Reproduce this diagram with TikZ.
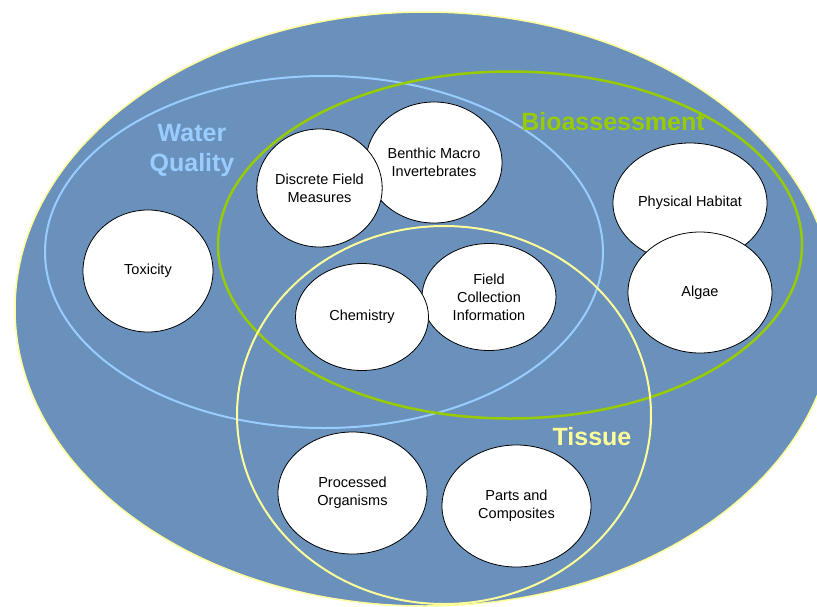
\documentclass[tikz,border=0pt]{standalone}
\usepackage{fontspec}
\setmainfont{Liberation Sans}
\usetikzlibrary{shapes.geometric}
\definecolor{pond}{RGB}{105,145,188}
\definecolor{wqblue}{RGB}{153,204,255}
\definecolor{biogreen}{RGB}{153,204,0}
\definecolor{tisyellow}{RGB}{255,255,153}
\begin{document}
\begin{tikzpicture}[x=1pt, y=-1pt,
    set/.style={ellipse, inner sep=0pt, line width=2pt},
    item/.style={ellipse, draw, fill=white, line width=0.8pt, inner sep=0pt,
      align=center, font=\fontsize{14.5}{18}\selectfont},
    title/.style={font=\fontsize{25}{30}\selectfont\bfseries, align=center}
    ]
    \useasboundingbox (0,0) rectangle (817,606);
    \clip (0,0) rectangle (817,606);
    \node[set, fill=pond, draw=tisyellow, line width=1.5pt,
      minimum width=820pt, minimum height=594pt] (all) at (425,309) {};
    \node[set, draw=wqblue, minimum width=558pt, minimum height=352pt] (wq) at (324,252) {};
    \node[set, draw=biogreen, line width=2.5pt, minimum width=584pt, minimum height=347pt] (bio) at (510,245) {};
    \node[set, draw=tisyellow, minimum width=414pt, minimum height=378pt] (tis) at (444,415) {};
    \node[title, text=wqblue] (wqtitle) at (192,150) {Water\\Quality};
    \node[title, text=biogreen] (biotitle) at (613,122) {Bioassessment};
    \node[title, text=tisyellow] (tistitle) at (592,437) {Tissue};
    \node[item, minimum width=130pt, minimum height=122pt] (tox) at (148,271) {Toxicity};
    \node[item, minimum width=136pt, minimum height=121pt] (benthic) at (434,162.5) {Benthic Macro\\Invertebrates};
    \node[item, minimum width=125pt, minimum height=118pt] (discrete) at (319.5,188) {Discrete Field\\Measures};
    \node[item, minimum width=154pt, minimum height=120pt] (habitat) at (690,203) {Physical Habitat};
    \node[item, minimum width=144pt, minimum height=121pt] (algae) at (700,292.5) {Algae};
    \node[item, minimum width=134pt, minimum height=107pt] (field) at (489,297) {Field\\Collection\\Information};
    \node[item, minimum width=133pt, minimum height=107pt] (chem) at (362,317) {Chemistry};
    \node[item, minimum width=149pt, minimum height=122pt] (processed) at (352.5,493) {Processed\\Organisms};
    \node[item, minimum width=149pt, minimum height=122pt] (parts) at (516.5,506) {Parts and\\Composites};
\end{tikzpicture}
\end{document}
